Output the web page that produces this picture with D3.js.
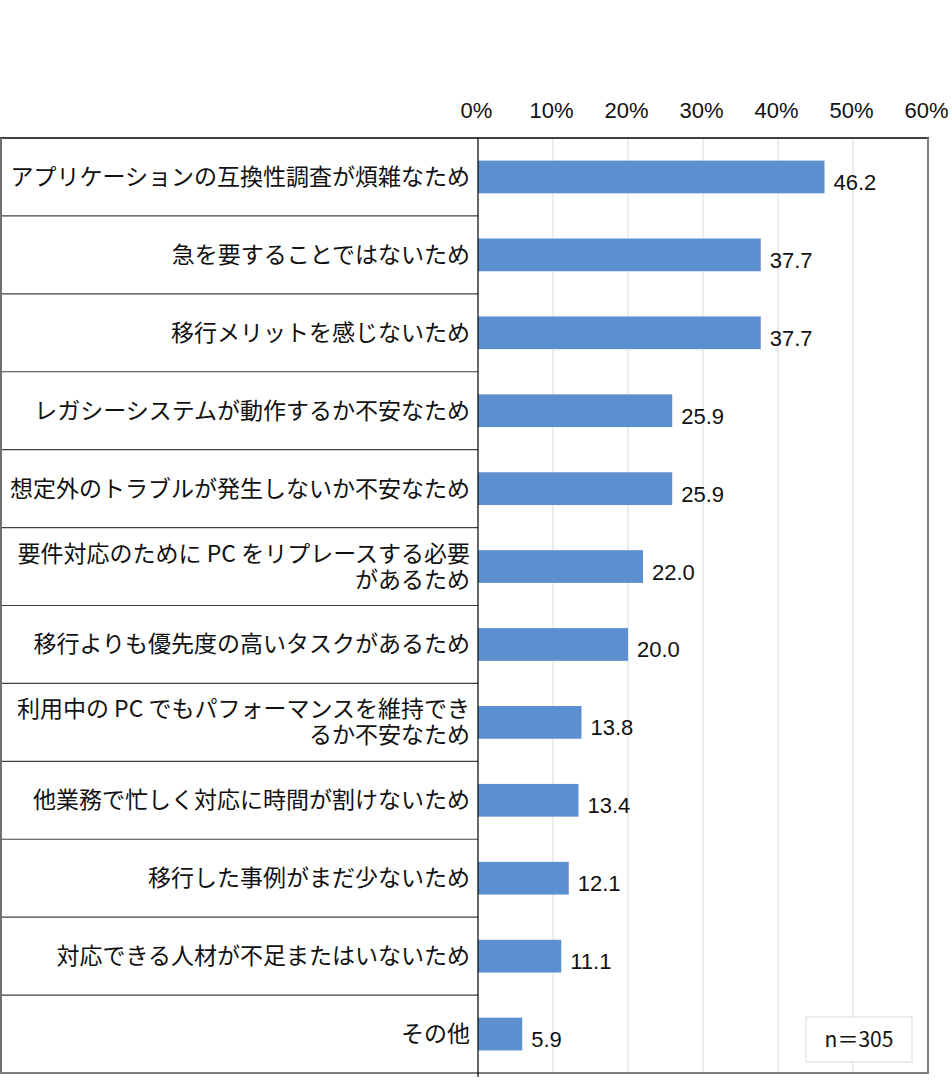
<!DOCTYPE html>
<html lang="ja">
<head>
<meta charset="UTF-8">
<title>移行しない理由</title>
<script src="https://d3js.org/d3.v7.min.js"></script>
<style>
  body { margin: 0; background: #fff; }
  svg { display: block; font-family: "Noto Sans CJK JP", "Noto Sans", sans-serif; }
  .cat { font-size: 23px; fill: #111; }
  .val { font-size: 22px; fill: #111; font-family: "Liberation Sans", Arial, sans-serif; }
  .tick text { font-size: 22px; fill: #111; font-family: "Liberation Sans", Arial, sans-serif; }
</style>
</head>
<body>
<svg width="952" height="1091"></svg>
<script>
// categories (line breaks as in the picture)
const categories = [
  "アプリケーションの互換性調査が煩雑なため",
  "急を要することではないため",
  "移行メリットを感じないため",
  "レガシーシステムが動作するか不安なため",
  "想定外のトラブルが発生しないか不安なため",
  "要件対応のために PC をリプレースする必要\nがあるため",
  "移行よりも優先度の高いタスクがあるため",
  "利用中の PC でもパフォーマンスを維持でき\nるか不安なため",
  "他業務で忙しく対応に時間が割けないため",
  "移行した事例がまだ少ないため",
  "対応できる人材が不足またはいないため",
  "その他"
];
const values = [46.2, 37.7, 37.7, 25.9, 25.9, 22.0, 20.0, 13.8, 13.4, 12.1, 11.1, 5.9];
const ticks = [0, 10, 20, 30, 40, 50, 60];
const sampleNote = "n＝305";

const svg = d3.select("svg");

const plotLeft = 478, plotRight = 928, plotTop = 138, plotBottom = 1073;

const x = d3.scaleLinear().domain([0, 60]).range([plotLeft, plotRight]);
const rows = d3.scaleBand().domain(categories).range([plotTop, plotBottom]).padding(0);
const barH = rows.bandwidth() * 0.42;

// gridlines
svg.append("g")
  .selectAll("line")
  .data(ticks.filter(t => t > 0 && t < 60))
  .join("line")
  .attr("x1", d => x(d)).attr("x2", d => x(d))
  .attr("y1", plotTop).attr("y2", plotBottom)
  .attr("stroke", "#d9d9d9").attr("stroke-width", 1);

// top axis labels
svg.append("g")
  .attr("transform", `translate(-2,${plotTop})`)
  .call(d3.axisTop(x).tickValues(ticks).tickSize(0).tickPadding(20).tickFormat(d => d + "%"))
  .call(g => g.select(".domain").remove());

// bars
svg.append("g")
  .selectAll("rect")
  .data(values)
  .join("rect")
  .attr("x", x(0))
  .attr("y", (d, i) => rows(categories[i]) + (rows.bandwidth() - barH) / 2)
  .attr("width", d => x(d) - x(0))
  .attr("height", barH)
  .attr("fill", "#5b8fcf");

// value labels
svg.append("g")
  .selectAll("text")
  .data(values)
  .join("text")
  .attr("class", "val")
  .attr("x", d => x(d) + 9)
  .attr("y", (d, i) => rows(categories[i]) + rows.bandwidth() / 2 + 13)
  .text(d => d.toFixed(1));

// category table
const table = svg.append("g");
table.selectAll("line.sep")
  .data(categories.slice(1))
  .join("line")
  .attr("class", "sep")
  .attr("x1", 0).attr("x2", plotLeft)
  .attr("y1", d => rows(d)).attr("y2", d => rows(d))
  .attr("stroke", "#404040").attr("stroke-width", 1.2);

const labels = table.selectAll("text")
  .data(categories)
  .join("text")
  .attr("class", "cat")
  .attr("text-anchor", "end");

labels.each(function (d) {
  const parts = d.split("\n");
  const cy = rows(d) + rows.bandwidth() / 2;
  const lh = 26;
  const start = cy - (parts.length - 1) * lh / 2 + 8;
  d3.select(this).selectAll("tspan")
    .data(parts)
    .join("tspan")
    .attr("x", 470)
    .attr("y", (p, j) => start + j * lh)
    .text(p => p);
});

// frame
svg.append("line")
  .attr("x1", 0).attr("x2", plotRight + 1)
  .attr("y1", plotTop).attr("y2", plotTop)
  .attr("stroke", "#000").attr("stroke-width", 1.5);
svg.append("line")
  .attr("x1", 0).attr("x2", plotRight + 1)
  .attr("y1", plotBottom).attr("y2", plotBottom)
  .attr("stroke", "#7f7f7f").attr("stroke-width", 2);
svg.append("line")
  .attr("x1", 1).attr("x2", 1)
  .attr("y1", plotTop).attr("y2", plotBottom)
  .attr("stroke", "#6f6f6f").attr("stroke-width", 2);
svg.append("line")
  .attr("x1", plotRight).attr("x2", plotRight)
  .attr("y1", plotTop).attr("y2", plotBottom)
  .attr("stroke", "#7f7f7f").attr("stroke-width", 2);
svg.append("line")
  .attr("x1", x(0)).attr("x2", x(0))
  .attr("y1", plotTop).attr("y2", plotBottom + 4)
  .attr("stroke", "#000").attr("stroke-width", 1.2);

// sample size box
const note = svg.append("g").attr("transform", "translate(806,1017)");
note.append("rect")
  .attr("width", 106).attr("height", 45)
  .attr("fill", "#fff").attr("stroke", "#d9d9d9");
note.append("text")
  .attr("x", 53).attr("y", 30)
  .attr("text-anchor", "middle")
  .attr("font-size", 21)
  .attr("fill", "#111")
  .text(sampleNote);
</script>
</body>
</html>
